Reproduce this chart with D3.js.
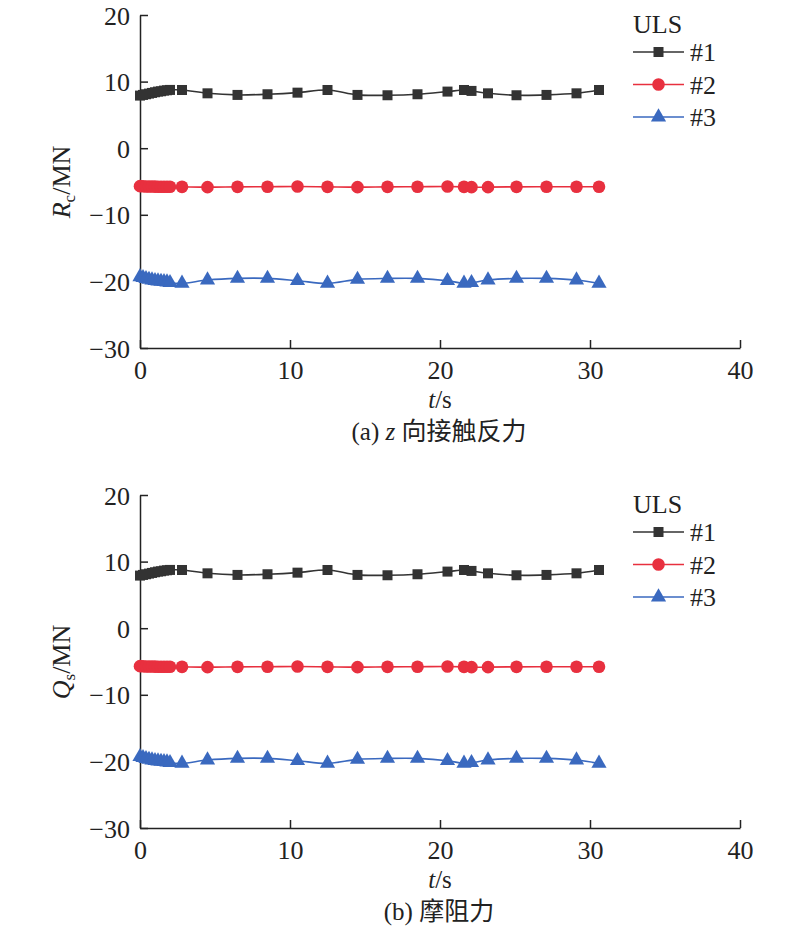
<!DOCTYPE html>
<html><head><meta charset="utf-8">
<script src="https://cdn.jsdelivr.net/npm/d3@7"></script>
<style>
body{margin:0;background:#fff;}
svg text{font-family:"Liberation Serif","Noto Sans CJK SC",serif !important;fill:#222;}
</style></head>
<body><svg id="c" width="800" height="932"></svg>
<script>
const times = [0,0.2,0.4,0.6,0.8,1.0,1.2,1.4,1.6,1.8,2.0,2.8,4.5,6.5,8.5,10.5,12.5,14.5,16.5,18.5,20.5,21.6,22.1,23.2,25.1,27.1,29.1,30.6];
const uls1 = [7.9,8.0,8.1,8.2,8.3,8.4,8.5,8.55,8.65,8.7,8.75,8.74,8.24,8.0,8.1,8.34,8.74,8.0,7.95,8.1,8.5,8.74,8.6,8.24,7.95,8.0,8.24,8.74];
const uls2 = [-5.7,-5.72,-5.74,-5.75,-5.76,-5.77,-5.78,-5.78,-5.78,-5.78,-5.78,-5.8,-5.85,-5.8,-5.78,-5.75,-5.8,-5.85,-5.8,-5.78,-5.75,-5.8,-5.85,-5.85,-5.8,-5.78,-5.78,-5.78];
const uls3 = [-19.3,-19.45,-19.6,-19.7,-19.8,-19.9,-19.95,-20.0,-20.05,-20.1,-20.2,-20.3,-19.8,-19.55,-19.55,-19.9,-20.3,-19.7,-19.55,-19.55,-19.9,-20.3,-20.2,-19.8,-19.55,-19.55,-19.8,-20.3];
const seriesNames = ["#1","#2","#3"];
const seriesColors = ["#333333","#e8303f","#3a69bf"];
const xTicks = [0,10,20,30,40];
const yTicks = [-30,-20,-10,0,10,20];
const panels = [
  {ylab:"R", sub:"c", caption:[["(a) ",false],["z",true],[" 向接触反力",false]]},
  {ylab:"Q", sub:"s", caption:[["(b) 摩阻力",false]]}
];
const seriesData = [uls1,uls2,uls3];

const svg = d3.select("#c");
const x = d3.scaleLinear().domain([0,40]).range([140,740]);

panels.forEach((p,pi)=>{
  const off = pi*480;
  const y = d3.scaleLinear().domain([-30,20]).range([348+off,15+off]);
  const g = svg.append("g");
  const ax = g.append("g").attr("transform",`translate(0,${348+off})`)
    .call(d3.axisBottom(x).tickValues(xTicks).tickSizeInner(-8).tickSizeOuter(0).tickPadding(14));
  const ay = g.append("g").attr("transform",`translate(140,0)`)
    .call(d3.axisLeft(y).tickValues(yTicks).tickSizeInner(-8).tickSizeOuter(0).tickPadding(10)
      .tickFormat(d=> d<0 ? "\u2212"+Math.abs(d) : d));
  [ax,ay].forEach(a=>{
    a.attr("font-family",null).attr("font-size",null);
    a.select(".domain").attr("stroke","#222").attr("stroke-width",1.5);
    a.selectAll(".tick line").attr("stroke","#222").attr("stroke-width",1.5);
    a.selectAll(".tick text").attr("font-family","Liberation Serif").style("font-size","26px").attr("fill","#222");
  });
  ax.selectAll(".tick text").attr("dy","0.71em").attr("y",13);
  ay.selectAll(".tick text").attr("dy","0.35em");
  seriesData.forEach((vals,si)=>{
    const pts = times.map((t,i)=>[t,vals[i]]);
    const line = d3.line().x(d=>x(d[0])).y(d=>y(d[1])).curve(d3.curveCatmullRom.alpha(0.5));
    g.append("path").attr("d",line(pts)).attr("fill","none").attr("stroke",seriesColors[si]).attr("stroke-width",1.6);
    const mg = g.append("g");
    pts.forEach(d=>drawMarker(mg, si, x(d[0]), y(d[1])));
  });
  const yl = g.append("text").attr("transform",`translate(70,${182+off}) rotate(-90)`)
    .attr("text-anchor","middle").style("font-size","26px");
  yl.append("tspan").text(p.ylab).style("font-style","italic");
  yl.append("tspan").text(p.sub).style("font-size","17px").style("font-style","normal").attr("dy","5");
  yl.append("tspan").text("/MN").style("font-style","normal").attr("dy","-5");
  const xl = g.append("text").attr("x",440).attr("y",408+off).attr("text-anchor","middle").style("font-size","25px");
  xl.append("tspan").text("t").style("font-style","italic");
  xl.append("tspan").text("/s");
  const cp = g.append("text").attr("x",439).attr("y",440+off).attr("text-anchor","middle").style("font-size","25px");
  p.caption.forEach(c=>{
    const ts = cp.append("tspan").text(c[0]);
    if(c[1]) ts.style("font-style","italic");
  });
  g.append("text").attr("x",633).attr("y",33+off).text("ULS").style("font-size","26px");
  seriesNames.forEach((n,si)=>{
    const ly = 52 + si*32.5 + off;
    g.append("line").attr("x1",633).attr("x2",684).attr("y1",ly).attr("y2",ly)
      .attr("stroke",seriesColors[si]).attr("stroke-width",1.6);
    drawMarker(g, si, 658.5, ly);
    g.append("text").attr("x",690).attr("y",ly+9).text(n).style("font-size","26px");
  });
});

function drawMarker(sel, si, cx, cy){
  const c = seriesColors[si];
  if(si===0){
    sel.append("rect").attr("x",cx-5).attr("y",cy-5).attr("width",10).attr("height",10).attr("fill",c);
  } else if(si===1){
    sel.append("circle").attr("cx",cx).attr("cy",cy).attr("r",6.3).attr("fill",c);
  } else {
    sel.append("path").attr("d",d3.symbol().type(d3.symbolTriangle).size(100)())
      .attr("transform",`translate(${cx},${cy})`).attr("fill",c);
  }
}
</script></body></html>
